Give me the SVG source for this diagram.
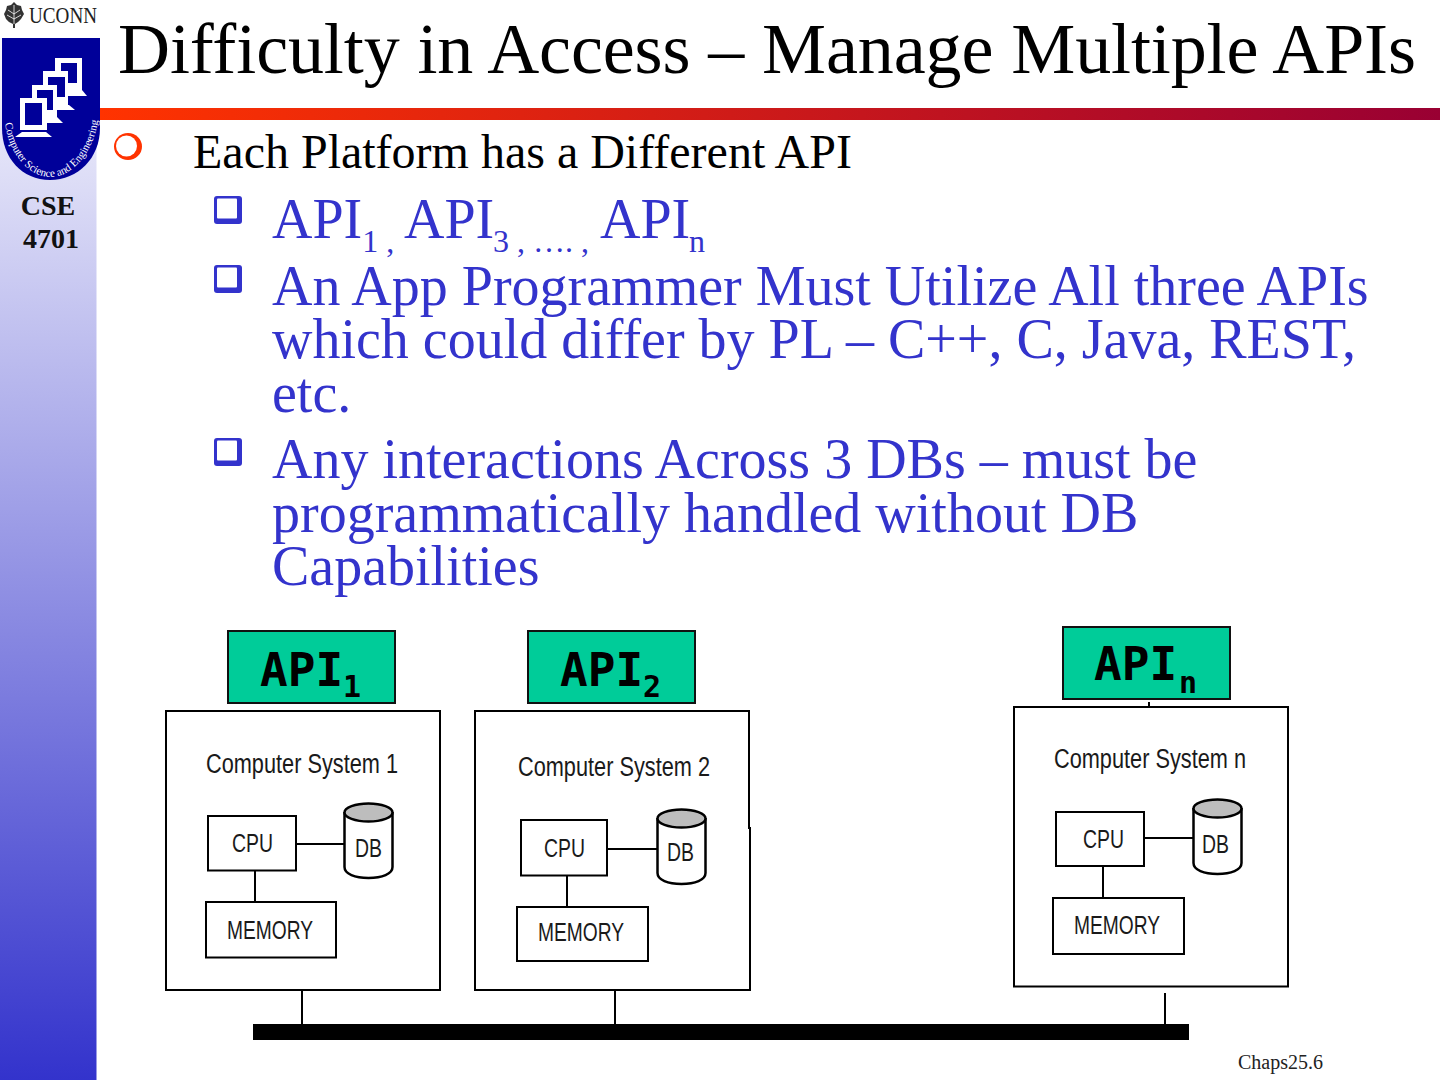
<svg xmlns="http://www.w3.org/2000/svg" width="1440" height="1080" viewBox="0 0 1440 1080">
<style>
.s{font-family:"Liberation Serif","Times New Roman",serif}
.b{fill:#3333cc;font-size:56px}
.sub{fill:#3333cc;font-size:32px}
.d{font-family:"Liberation Sans",Arial,sans-serif;fill:#1a1a1a}
.api{fill:#00cc99;stroke:#111;stroke-width:2}
.m{font-family:"DejaVu Sans Mono",monospace;font-weight:bold;fill:#000}
.box{fill:#fff;stroke:#000;stroke-width:2}
.l{stroke:#000;stroke-width:2;fill:none}
.w{fill:#fff}
.bl{fill:#000099}
</style>
<defs>
<linearGradient id="side" x1="0" y1="0" x2="0" y2="1"><stop offset="0" stop-color="#fff"/><stop offset="1" stop-color="#3333cc"/></linearGradient>
<linearGradient id="rule" x1="0" y1="0" x2="1" y2="0"><stop offset="0" stop-color="#ff3300"/><stop offset="1" stop-color="#990033"/></linearGradient>
<g id="q"><rect x="0" y="0" width="28" height="28" rx="3" fill="#3333cc"/><rect x="3" y="2.500" width="20" height="20" rx="1" fill="#fff"/></g>
<g id="cyl"><path d="M0.500 9V64C0.500 71 11 75 24.500 75S48.500 71 48.500 64V9" fill="#fff" stroke="#000" stroke-width="2.500"/><ellipse cx="24.500" cy="9.500" rx="24" ry="9" fill="#bdbdbd" stroke="#000" stroke-width="2.500"/></g>
</defs>
<rect width="1440" height="1080" fill="#fff"/>
<rect id="sidebar" width="96.500" height="1080" fill="url(#side)"/>
<rect id="logo-bg" width="100" height="38" fill="#fff"/>
<g id="logo">
<path d="M14 2L17 5L21 6L22 10L24 14L21 19L18 22L15 24V28H13V24L9 22L6 19L4 14L6 10L7 6L11 5Z" fill="#333"/>
<path d="M14 5V24M8 10L14 14L20 10M7 15L14 19L21 15" fill="none" stroke="#fff" stroke-width="0.800"/>
<text x="29" y="23" class="s" font-size="23" fill="#222" textLength="68" lengthAdjust="spacingAndGlyphs">UCONN</text>
<path d="M2 38H100V128C100 158 78 180 50 180C22 180 2 158 2 128Z" fill="#000099"/>
<rect class="w" x="55" y="58" width="27" height="32"/><rect class="bl" x="61" y="63" width="16" height="20"/><path class="w" d="M62 90H82L87 96H62Z"/>
<rect class="w" x="43" y="71" width="25" height="34"/><rect class="bl" x="48" y="77" width="17" height="20"/><path class="w" d="M52 105H69L75 110H52Z"/>
<rect class="w" x="32" y="85" width="25" height="32"/><rect class="bl" x="37" y="90" width="16" height="20"/><path class="w" d="M40 117H57L63 123H40Z"/>
<rect class="w" x="20" y="98" width="27" height="32"/><rect class="bl" x="25" y="103" width="17" height="22"/><path class="w" d="M22 132H46L52 137H15Z"/>
<path id="arc" d="M5 123C8 150 26 176 50 177C74 177 94 150 98 120" fill="none"/>
<text class="s" font-size="11" fill="#fff"><textPath href="#arc">Computer Science and Engineering</textPath></text>
</g>
<text x="48" y="215" class="s" font-size="28" font-weight="bold" fill="#111" text-anchor="middle">CSE</text>
<text x="51" y="248" class="s" font-size="28" font-weight="bold" fill="#111" text-anchor="middle">4701</text>
<text x="118" y="73" class="s" font-size="72" fill="#000" textLength="1298" lengthAdjust="spacing">Difficulty in Access – Manage Multiple APIs</text>
<rect id="rule-bar" x="100" y="108" width="1340" height="12" fill="url(#rule)"/>
<g id="bullet0"><ellipse cx="128" cy="146.500" rx="14" ry="13.500" fill="#ff3300"/><circle cx="126.500" cy="146" r="10.500" fill="#fff"/></g>
<text x="193" y="168" class="s" font-size="48" fill="#000">Each Platform has a Different API</text>
<use href="#q" x="214" y="196"/>
<text x="272" y="238" class="s b">API<tspan class="sub" dy="14">1 , </tspan><tspan x="404" dy="-14">API</tspan><tspan class="sub" x="493" dy="14">3 , …. , </tspan><tspan x="600" dy="-14">API</tspan><tspan class="sub" x="689" dy="14">n</tspan></text>
<use href="#q" x="214" y="265"/>
<text x="272" y="305" class="s b">An App Programmer Must Utilize All three APIs</text>
<text x="272" y="358" class="s b">which could differ by PL – C++, C, Java, REST,</text>
<text x="272" y="412" class="s b">etc.</text>
<use href="#q" x="214" y="438"/>
<text x="272" y="478" class="s b">Any interactions Across 3 DBs – must be</text>
<text x="272" y="532" class="s b">programmatically handled without DB</text>
<text x="272" y="585" class="s b">Capabilities</text>
<g id="api1"><rect class="api" x="228" y="631" width="167" height="72"/><text class="m" x="260" y="686" font-size="46">API<tspan font-size="30" dy="11">1</tspan></text></g>
<g id="api2"><rect class="api" x="528" y="631" width="167" height="72"/><text class="m" x="560" y="686" font-size="46">API<tspan font-size="30" dy="11">2</tspan></text></g>
<g id="apin"><rect class="api" x="1063" y="627" width="167" height="72"/><text class="m" x="1094" y="680" font-size="46">API<tspan font-size="30" dx="2" dy="13">n</tspan></text></g>
<g id="sys1">
<rect class="box" x="166" y="711" width="274" height="279"/>
<text class="d" x="206" y="773" font-size="27" textLength="192" lengthAdjust="spacingAndGlyphs">Computer System 1</text>
<rect class="box" x="208" y="816" width="88" height="54.500"/><text class="d" x="232" y="852" font-size="25" textLength="41" lengthAdjust="spacingAndGlyphs">CPU</text>
<use href="#cyl" x="344" y="803"/><text class="d" x="355" y="857" font-size="25" textLength="27" lengthAdjust="spacingAndGlyphs">DB</text>
<rect class="box" x="206" y="902" width="130" height="55.500"/><text class="d" x="227" y="939" font-size="25" textLength="86" lengthAdjust="spacingAndGlyphs">MEMORY</text>
</g>
<g id="sys2">
<path class="box" d="M475 711H749V828H750V990H475Z"/>
<text class="d" x="518" y="776" font-size="27" textLength="192" lengthAdjust="spacingAndGlyphs">Computer System 2</text>
<rect class="box" x="521" y="820" width="86" height="55.500"/><text class="d" x="544" y="857" font-size="25" textLength="41" lengthAdjust="spacingAndGlyphs">CPU</text>
<use href="#cyl" x="657" y="809"/><text class="d" x="667" y="861" font-size="25" textLength="27" lengthAdjust="spacingAndGlyphs">DB</text>
<rect class="box" x="517" y="907" width="131" height="54"/><text class="d" x="538" y="941" font-size="25" textLength="86" lengthAdjust="spacingAndGlyphs">MEMORY</text>
</g>
<g id="sysn">
<rect class="box" x="1014" y="707" width="274" height="279.500"/>
<text class="d" x="1054" y="768" font-size="27" textLength="192" lengthAdjust="spacingAndGlyphs">Computer System n</text>
<rect class="box" x="1056" y="812" width="88" height="54"/><text class="d" x="1083" y="848" font-size="25" textLength="41" lengthAdjust="spacingAndGlyphs">CPU</text>
<use href="#cyl" x="1193" y="799"/><text class="d" x="1202" y="853" font-size="25" textLength="27" lengthAdjust="spacingAndGlyphs">DB</text>
<rect class="box" x="1053" y="898" width="131" height="56"/><text class="d" x="1074" y="934" font-size="25" textLength="86" lengthAdjust="spacingAndGlyphs">MEMORY</text>
</g>
<g id="connectors">
<rect x="253" y="1024" width="936" height="16" fill="#000"/>
<path class="l" d="M302 990V1024M615 990V1024M1165 993V1024M1149 702V707M296 844H344M255 871V902M607 849H657M567 876V907M1144 838H1193M1103 866V898"/>
</g>
<text x="1238" y="1069" class="s" font-size="20" fill="#222">Chaps25.6</text>
</svg>
